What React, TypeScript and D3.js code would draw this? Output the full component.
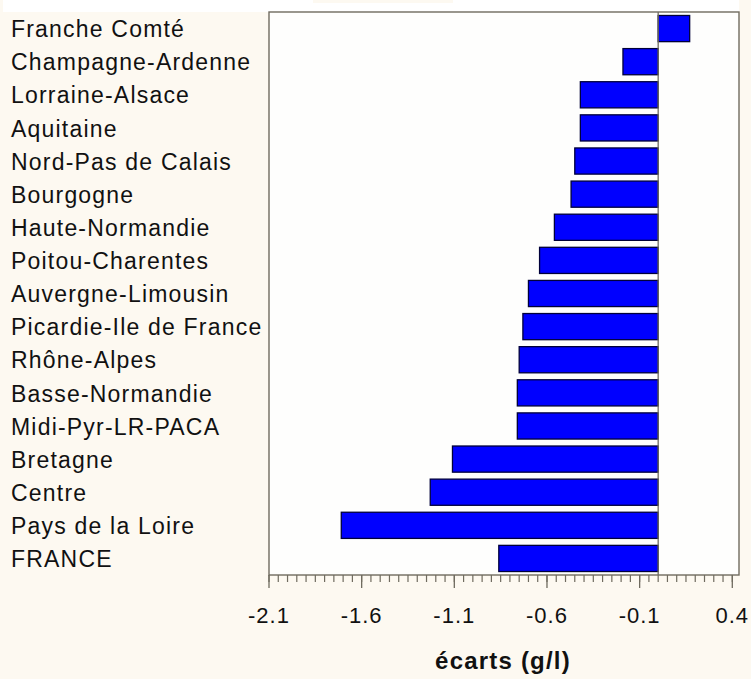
import React from "react";
import * as d3 from "d3";

const regions = [
  "Franche Comté",
  "Champagne-Ardenne",
  "Lorraine-Alsace",
  "Aquitaine",
  "Nord-Pas de Calais",
  "Bourgogne",
  "Haute-Normandie",
  "Poitou-Charentes",
  "Auvergne-Limousin",
  "Picardie-Ile de France",
  "Rhône-Alpes",
  "Basse-Normandie",
  "Midi-Pyr-LR-PACA",
  "Bretagne",
  "Centre",
  "Pays de la Loire",
  "FRANCE",
];

const ecarts = [
  0.17, -0.19, -0.42, -0.42, -0.45, -0.47, -0.56, -0.64, -0.7, -0.73, -0.75,
  -0.76, -0.76, -1.11, -1.23, -1.71, -0.86,
];

const majorTicks = [-2.1, -1.6, -1.1, -0.6, -0.1, 0.4];
const axisTitle = "écarts (g/l)";

export default function App() {
  const W = 751;
  const H = 679;
  const plotLeft = 269;
  const plotRight = 739;
  const plotTop = 12;
  const plotBottom = 575;

  const x = d3.scaleLinear().domain([-2.1, 0.4]).range([269, 732.3]);
  const y = d3
    .scaleBand<string>()
    .domain(regions)
    .range([plotTop, plotBottom])
    .paddingInner(0.21)
    .paddingOuter(0.105);

  const minorTicks = d3.range(0, 51).map((i) => -2.1 + i * 0.05);
  const border = "#6f6b5f";
  const font = "'Liberation Sans', Arial, sans-serif";

  return (
    <svg
      width={W}
      height={H}
      style={{ position: "absolute", left: 0, top: 0 }}
      fontFamily={font}
    >
      <rect x={0} y={0} width={W} height={H} fill="#fdf9f1" />
      <rect x={3} y={0} width={736} height={12} fill="#ffffff" />
      <rect x={313} y={0} width={140} height={3} fill="#fdf9f1" />
      <rect
        x={plotLeft}
        y={plotTop}
        width={plotRight - plotLeft}
        height={plotBottom - plotTop}
        fill="#fefefd"
      />
      {regions.map((r, i) => {
        const v = ecarts[i];
        const x0 = x(Math.min(0, v));
        const x1 = x(Math.max(0, v));
        return (
          <rect
            key={r}
            x={x0}
            y={y(r)!}
            width={x1 - x0}
            height={y.bandwidth()}
            fill="#0000ff"
            stroke="#00003a"
            strokeWidth={1.3}
          />
        );
      })}
      <line
        x1={x(0)}
        x2={x(0)}
        y1={plotTop}
        y2={plotBottom}
        stroke={border}
        strokeWidth={1.3}
      />
      <rect
        x={plotLeft}
        y={plotTop}
        width={plotRight - plotLeft}
        height={plotBottom - plotTop}
        fill="none"
        stroke={border}
        strokeWidth={1.4}
      />
      {regions.map((r) => (
        <text
          key={"l" + r}
          x={11}
          y={y(r)! + y.bandwidth() / 2 + 8.7}
          fontSize={23}
          letterSpacing={1.2}
          fill="#111"
        >
          {r}
        </text>
      ))}
      {minorTicks.map((t, i) => (
        <line
          key={"m" + i}
          x1={x(t)}
          x2={x(t)}
          y1={plotBottom}
          y2={plotBottom + 7}
          stroke={border}
          strokeWidth={1.2}
        />
      ))}
      {majorTicks.map((t) => (
        <g key={"t" + t}>
          <line
            x1={x(t)}
            x2={x(t)}
            y1={plotBottom}
            y2={plotBottom + 13}
            stroke={border}
            strokeWidth={1.3}
          />
          <text
            x={x(t)}
            y={622.5}
            fontSize={22}
            letterSpacing={1}
            textAnchor="middle"
            fill="#111"
          >
            {d3.format(".1f")(t).replace("−", "-")}
          </text>
        </g>
      ))}
      <text
        x={503}
        y={669}
        fontSize={24}
        fontWeight="bold"
        letterSpacing={1.2}
        textAnchor="middle"
        fill="#111"
      >
        {axisTitle}
      </text>
    </svg>
  );
}
